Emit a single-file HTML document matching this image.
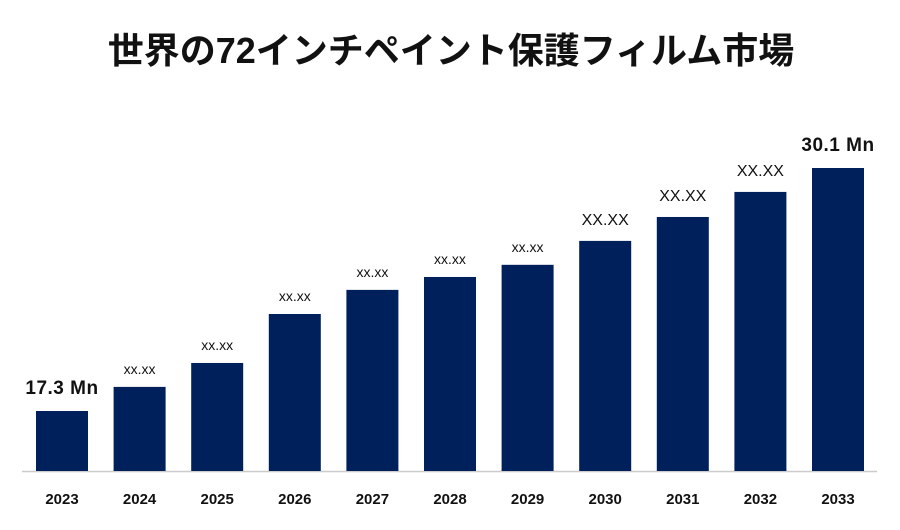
<!DOCTYPE html>
<html><head><meta charset="utf-8"><style>
body{margin:0;background:#fff;width:900px;height:525px;overflow:hidden}
svg text{font-family:"Liberation Sans","Noto Sans CJK JP",sans-serif}
</style></head><body>
<svg width="900" height="525">
<text x="451" y="63" text-anchor="middle" font-size="36" font-weight="bold" fill="#111">世界の72インチペイント保護フィルム市場</text>
<line x1="22" y1="471.5" x2="877" y2="471.5" stroke="#ccc" stroke-width="1.5"/>
<g id="bars"></g>
</svg>
<script>
const categories=["2023","2024","2025","2026","2027","2028","2029","2030","2031","2032","2033"];
const values=[17.3,18.57,19.83,22.41,23.68,24.36,25.0,26.26,27.52,28.84,30.1];
const valueLabels=["17.3 Mn","xx.xx","xx.xx","xx.xx","xx.xx","xx.xx","xx.xx","XX.XX","XX.XX","XX.XX","30.1 Mn"];
const yMin=14.14, yMax=30.1;
const base=471, topY=168, x0=36, step=77.6, bw=52;
function y(v){return base-(v-yMin)/(yMax-yMin)*(base-topY);}
function x(i){return x0+i*step;}
const g=document.getElementById('bars');
const ns="http://www.w3.org/2000/svg";
categories.forEach((c,i)=>{
  const r=document.createElementNS(ns,'rect');
  r.setAttribute('x',x(i));r.setAttribute('y',y(values[i]));
  r.setAttribute('width',bw);r.setAttribute('height',base-y(values[i]));
  r.setAttribute('fill','#00205b');
  
  
  g.appendChild(r);
  const t=document.createElementNS(ns,'text');
  t.setAttribute('x',x(i)+bw/2);t.setAttribute('y',504);
  t.setAttribute('text-anchor','middle');t.setAttribute('font-size','15');
  t.setAttribute('font-weight','bold');t.setAttribute('fill','#111');
  t.textContent=c;
  
  
  g.appendChild(t);
  const l=document.createElementNS(ns,'text');
  const big=(i===0||i===categories.length-1);
  const upper=valueLabels[i]==="XX.XX";
  l.setAttribute('x',x(i)+bw/2);
  l.setAttribute('y',y(values[i])-(big?17:(upper?16:13)));
  l.setAttribute('text-anchor','middle');
  l.setAttribute('font-size',big?'19':(upper?'16':'14'));
  if(big){l.setAttribute('font-weight','bold');l.setAttribute('letter-spacing','0.5');}
  l.setAttribute('fill','#111');
  l.textContent=valueLabels[i];
  
  
  g.appendChild(l);
});
</script>
</body></html>
